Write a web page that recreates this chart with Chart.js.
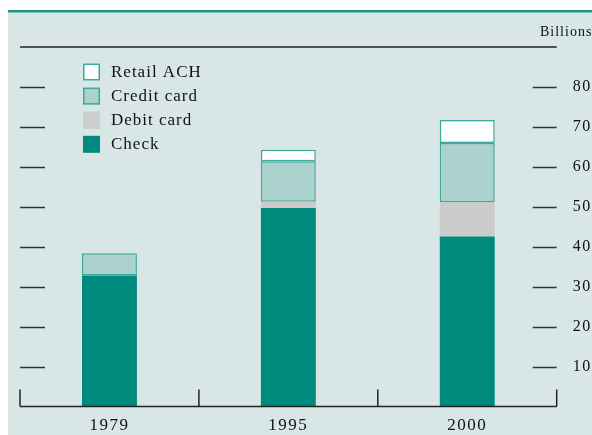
<!DOCTYPE html>
<html>
<head>
<meta charset="utf-8">
<script src="https://cdn.jsdelivr.net/npm/chart.js@4.4.0/dist/chart.umd.min.js"></script>
<style>
  html, body { margin: 0; padding: 0; background: #fff; }
  canvas { display: block; }
</style>
</head>
<body>
<canvas id="payChart" width="592" height="435"></canvas>
<script>
// values, billions of payments
const years = ['1979', '1995', '2000'];
const check = [32.8, 49.7, 42.6];
const debitCard = [null, 1.6, 8.5];
const creditCard = [5.6, 10.1, 14.9];
const retailAch = [null, 2.9, 5.7];
const tickValues = [10, 20, 30, 40, 50, 60, 70, 80];

const TEAL = '#00897d';
const EDGE = '#3da89c';
const BG = '#d8e6e6';
const SERIF = '"Liberation Serif", "DejaVu Serif", serif';

const framePlugin = {
    id: 'frame',
    beforeDraw(chart) {
        const ctx = chart.ctx;
        ctx.save();
        ctx.fillStyle = '#ffffff';
        ctx.fillRect(0, 0, chart.width, chart.height);
        ctx.fillStyle = BG;
        ctx.fillRect(8, 12, chart.width - 8, chart.height - 12);
        ctx.fillStyle = '#1f9686';
        ctx.fillRect(8, 10, chart.width - 8, 2.5);
        ctx.restore();
        ctx.letterSpacing = '1.5px';
    },
    afterDatasetsDraw(chart) {
        const ctx = chart.ctx;
        const area = chart.chartArea;
        const x = chart.scales.x;
        const y = chart.scales.y;
        ctx.save();
        ctx.strokeStyle = '#222';
        ctx.lineWidth = 1.5;

        // top rule and bottom axis
        ctx.beginPath();
        ctx.moveTo(area.left, area.top);
        ctx.lineTo(area.right, area.top);
        ctx.moveTo(area.left, area.bottom);
        ctx.lineTo(area.right, area.bottom);
        ctx.stroke();

        // upward ticks at category boundaries
        const half = (x.getPixelForValue(1) - x.getPixelForValue(0)) / 2;
        ctx.beginPath();
        for (let i = 0; i <= years.length; i++) {
            const px = x.getPixelForValue(i) - half;
            ctx.moveTo(px, area.bottom);
            ctx.lineTo(px, area.bottom - 17);
        }
        ctx.stroke();

        // dashes on both sides
        ctx.strokeStyle = '#333';
        ctx.beginPath();
        tickValues.forEach(v => {
            const py = Math.round(y.getPixelForValue(v)) + 0.5;
            ctx.moveTo(area.left, py);
            ctx.lineTo(area.left + 25, py);
            ctx.moveTo(area.right - 24, py);
            ctx.lineTo(area.right, py);
        });
        ctx.stroke();

        // unit label
        ctx.fillStyle = '#111';
        ctx.font = '14px ' + SERIF;
        ctx.letterSpacing = '1px';
        ctx.textAlign = 'left';
        ctx.textBaseline = 'alphabetic';
        ctx.fillText('Billions', 540, 36);

        // legend, top of stack first
        ctx.font = '17px ' + SERIF;
        ctx.letterSpacing = '1px';
        ctx.textBaseline = 'middle';
        const sets = chart.data.datasets.slice().reverse();
        sets.forEach((ds, i) => {
            const top = 63.5 + i * 24.1;
            ctx.fillStyle = ds.backgroundColor;
            ctx.fillRect(83, top, 17, 17);
            if (ds.legendEdge) {
                ctx.strokeStyle = ds.legendEdge;
                ctx.lineWidth = 1.5;
                ctx.strokeRect(83.75, top + 0.75, 15.5, 15.5);
            }
            ctx.fillStyle = '#111';
            ctx.fillText(ds.label, 111, top + 9);
        });
        ctx.restore();
    }
};

new Chart(document.getElementById('payChart'), {
    type: 'bar',
    data: {
        labels: years,
        datasets: [
            { label: 'Check', data: check, backgroundColor: TEAL, borderWidth: 0 },
            { label: 'Debit card', data: debitCard, backgroundColor: '#cccccc', borderWidth: 0, legendEdge: '#c4d6d4' },
            { label: 'Credit card', data: creditCard, backgroundColor: '#acd2ce', borderColor: EDGE, borderWidth: 1.5, borderSkipped: false, legendEdge: EDGE },
            { label: 'Retail ACH', data: retailAch, backgroundColor: '#ffffff', borderColor: EDGE, borderWidth: 1.5, borderSkipped: false, legendEdge: EDGE }
        ]
    },
    options: {
        responsive: false,
        animation: false,
        devicePixelRatio: 1,
        layout: { padding: { left: 20, top: 47, right: 0, bottom: 0 } },
        datasets: { bar: { categoryPercentage: 1, barPercentage: 0.307 } },
        plugins: { legend: { display: false }, tooltip: { enabled: false } },
        scales: {
            x: {
                stacked: true,
                grid: { display: false, drawTicks: false },
                border: { display: false },
                ticks: { color: '#111', font: { family: SERIF, size: 17 }, padding: 9 },
                afterFit: s => { s.height = 28.4; }
            },
            y: {
                position: 'right',
                stacked: true,
                min: 0,
                max: 90,
                grid: { display: false, drawTicks: false },
                border: { display: false },
                ticks: {
                    stepSize: 10,
                    padding: 16,
                    color: '#111',
                    font: { family: SERIF, size: 16 },
                    callback: v => tickValues.includes(v) ? v : ''
                },
                afterFit: s => { s.width = 35.3; }
            }
        }
    },
    plugins: [framePlugin]
});
</script>
</body>
</html>
